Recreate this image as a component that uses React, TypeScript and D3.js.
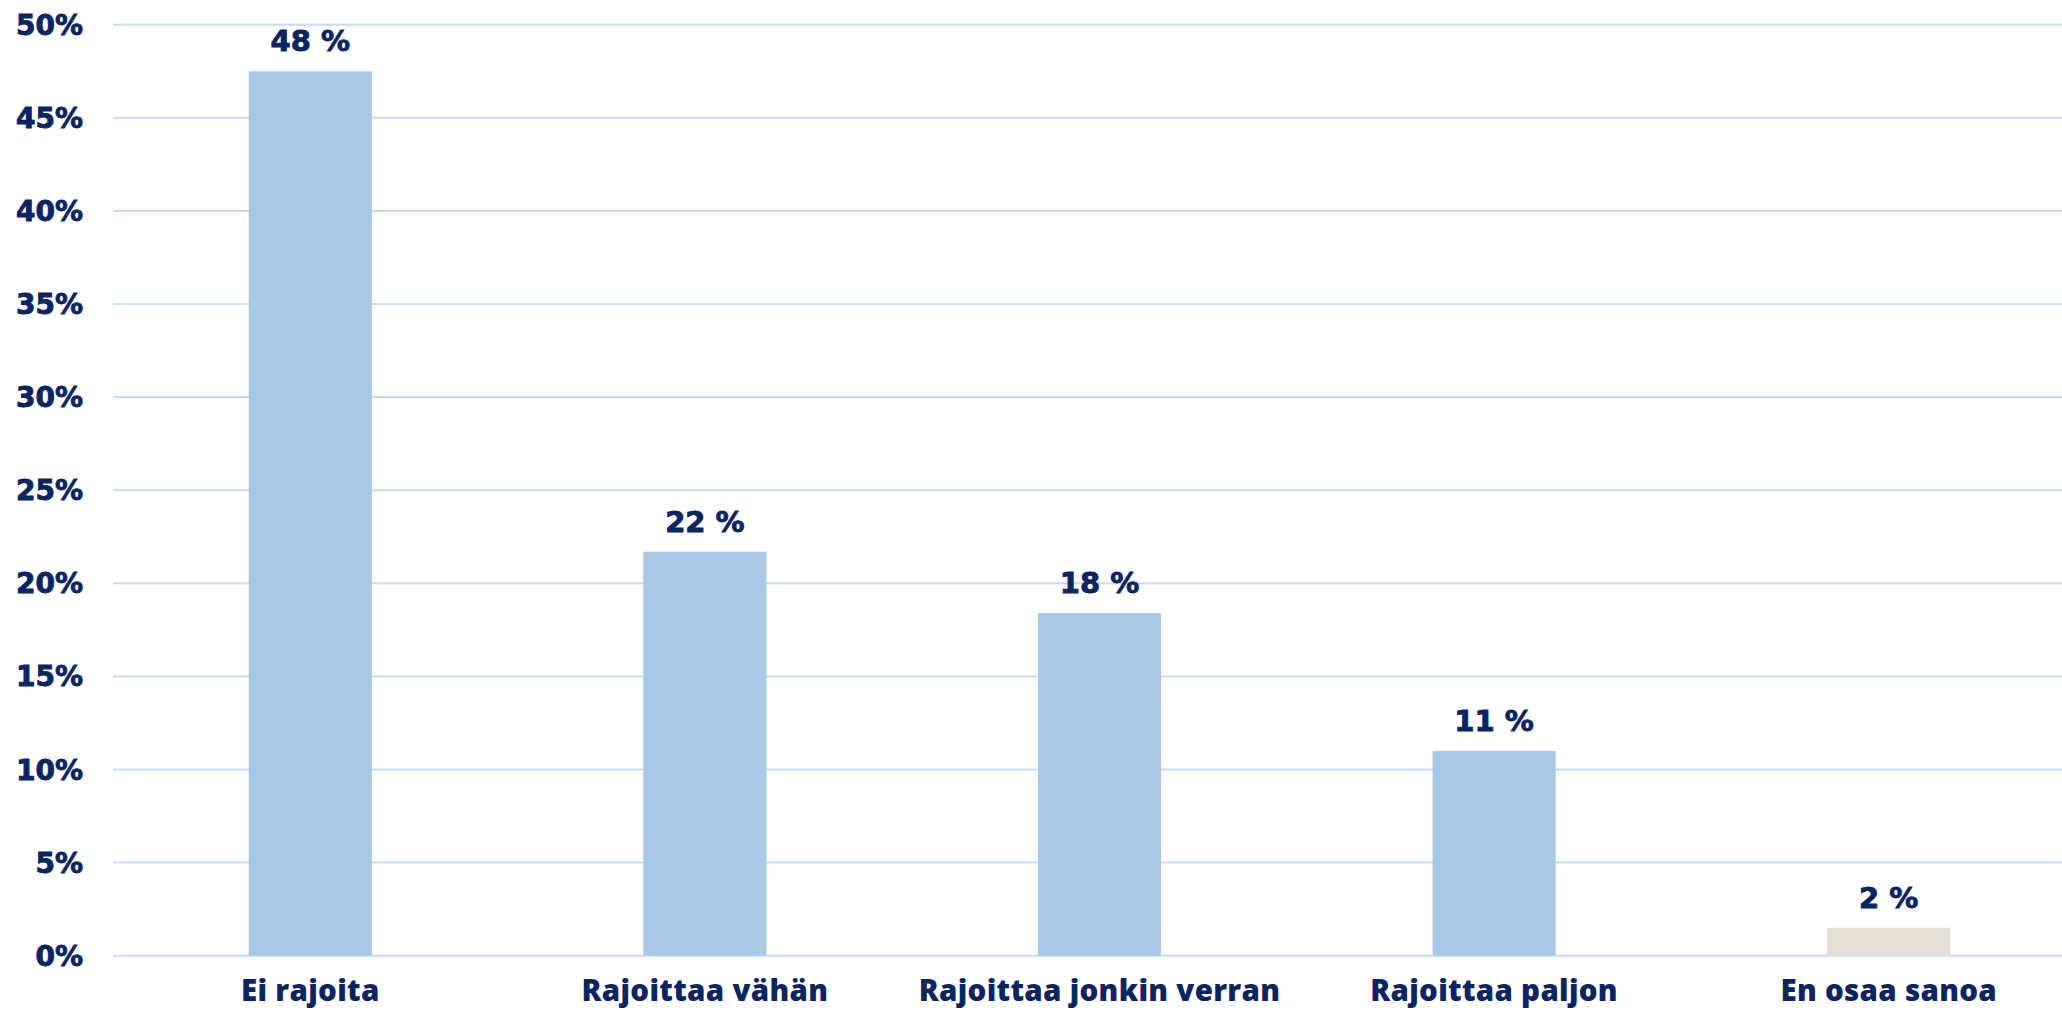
import React from "react";
import * as d3 from "d3";

const categories = ["Ei rajoita", "Rajoittaa vähän", "Rajoittaa jonkin verran", "Rajoittaa paljon", "En osaa sanoa"];
const values = [47.5, 21.7, 18.4, 11.0, 1.5];
const valueLabels = ["48 %", "22 %", "18 %", "11 %", "2 %"];
const barColors = ["#a8c9e6", "#a8c9e6", "#a8c9e6", "#a8c9e6", "#e6e0d4"];
const yTicks = [0, 5, 10, 15, 20, 25, 30, 35, 40, 45, 50];

const W = 2062;
const H = 1010;
const NAVY = "#0c2461";
const FONT = "'Open Sans', Roboto, sans-serif";
const NUMFONT = "'DejaVu Sans', 'Open Sans', sans-serif";

export default function App() {
  const x = d3.scaleBand<string>().domain(categories).range([113, 2086]).paddingInner(0.688).paddingOuter(0.344);
  const y = d3.scaleLinear().domain([0, 50]).range([955.7, 24.7]);

  return (
    <svg width={W} height={H} style={{ position: "absolute", left: 0, top: 0, background: "#fff" }}>
      {yTicks.map((t) => (
        <g key={t}>
          <line x1={113} x2={W} y1={y(t)} y2={y(t)} stroke="#c6dcf7" strokeWidth={2} />
          <text x={83} y={y(t)} dy="0.36em" textAnchor="end" fontFamily={NUMFONT} fontWeight={700} fontSize={28} fill={NAVY} stroke={NAVY} strokeWidth={0.9}>
            {t}%
          </text>
        </g>
      ))}
      {categories.map((c, i) => (
        <g key={c}>
          <rect x={x(c)} y={y(values[i])} width={x.bandwidth()} height={y(0) - y(values[i])} fill={barColors[i]} />
          <text x={(x(c) as number) + x.bandwidth() / 2} y={y(values[i]) - 20} textAnchor="middle" fontFamily={NUMFONT} fontWeight={700} fontSize={29} fill={NAVY} stroke={NAVY} strokeWidth={0.9}>
            {valueLabels[i]}
          </text>
          <text x={(x(c) as number) + x.bandwidth() / 2} y={1001} textAnchor="middle" fontFamily={FONT} fontWeight={800} fontSize={29.5} letterSpacing={0.3} fill={NAVY}>
            {c}
          </text>
        </g>
      ))}
    </svg>
  );
}
